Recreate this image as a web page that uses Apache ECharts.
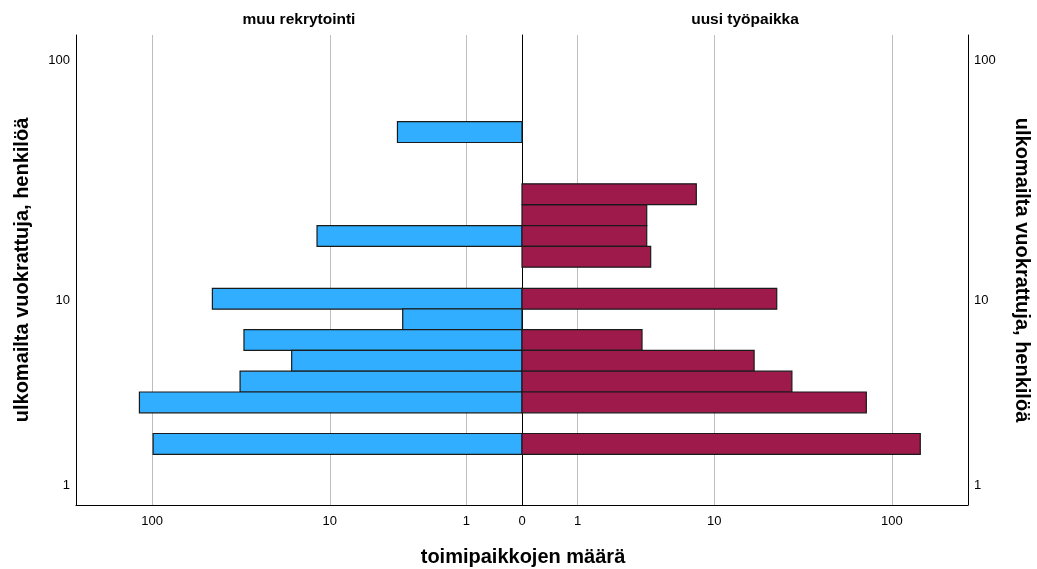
<!DOCTYPE html>
<html>
<head>
<meta charset="utf-8">
<title>toimipaikkojen määrä</title>
<script src="https://cdn.jsdelivr.net/npm/echarts@6/dist/echarts.min.js"></script>
<style>
  html, body { margin: 0; padding: 0; background: #ffffff; }
  #chart { width: 1037px; height: 569px; }
</style>
</head>
<body>
<div id="chart"></div>
<script>
// Histogram bins (persons hired from abroad), bin centres, top to bottom
const binCenters = [51.2, 28.4, 23.2, 19.0, 15.5, 10.2, 8.27, 6.65, 5.31, 4.21, 3.30, 1.93];
// Number of establishments per bin
const muuRekrytointi = [3.73, 0, 0, 11.9, 0, 46.6, 3.43, 31.1, 16.7, 32.7, 117.3, 98.7];
const uusiTyopaikka  = [0, 7.8, 3.74, 3.74, 3.98, 23.0, 0, 3.47, 17.1, 28.0, 72.4, 142.9];
// Tick labels
const countTicks = [1, 10, 100];
const personTicks = [1, 10, 100];
// Axis extents in original units
const personRange = [2 / 3, 127];
const countMax = 260;
// Width of one bin on the safe-log scale
const BIN_LOG = 0.0834;

const panelTitles = ['muu rekrytointi', 'uusi työpaikka'];
const yTitle = 'ulkomailta vuokrattuja, henkilöä';
const xTitle = 'toimipaikkojen määrä';

// safe-log transform: log10(v + 1)
const sl = v => Math.log10(v + 1);
const unsl = t => Math.pow(10, t) - 1;
const fmt = t => String(Math.round(unsl(t)));

const FONT = '"Liberation Sans", Arial, sans-serif';
const BLUE = '#31aeff';
const CRIMSON = '#9e1a4b';

function buildData(counts) {
  const out = [];
  counts.forEach((c, i) => { if (c > 0) out.push([sl(c), sl(binCenters[i])]); });
  return out;
}

function barRenderer(color) {
  return function (params, api) {
    const x = api.value(0), y = api.value(1);
    const a = api.coord([0, y + BIN_LOG / 2]);
    const b = api.coord([x, y - BIN_LOG / 2]);
    return {
      type: 'rect',
      shape: {
        x: Math.min(a[0], b[0]), y: Math.min(a[1], b[1]),
        width: Math.abs(b[0] - a[0]), height: Math.abs(b[1] - a[1])
      },
      style: { fill: color, stroke: '#1a1a1a', lineWidth: 1.2 }
    };
  };
}

const gridTop = 35, gridH = 470, gridW = 446, centerX = 522;

function xAxisCfg(gridIndex, inverse, ticks) {
  const vals = ticks.map(sl);
  return {
    type: 'value', gridIndex, inverse, min: 0, max: sl(countMax),
    axisLine: { show: true, onZero: false, lineStyle: { color: '#000', width: 1 } },
    axisTick: { show: false, customValues: vals },
    axisLabel: { customValues: vals, formatter: v => fmt(v), margin: 10,
                 fontFamily: FONT, fontSize: 13, color: '#000' },
    splitLine: { show: true, customValues: vals, lineStyle: { color: '#bdbdbd', width: 1 } }
  };
}

function yAxisCfg(gridIndex, position, showLabels) {
  const vals = personTicks.map(sl);
  return {
    type: 'value', gridIndex, position,
    min: sl(personRange[0]), max: sl(personRange[1]),
    axisLine: { show: true, onZero: false, lineStyle: { color: '#000', width: 1 } },
    axisTick: { show: false, customValues: vals },
    axisLabel: { show: showLabels, customValues: vals, formatter: v => fmt(v), margin: 6,
                 fontFamily: FONT, fontSize: 13, color: '#000' },
    splitLine: { show: false }
  };
}

const chart = echarts.init(document.getElementById('chart'), null, { renderer: 'canvas' });
chart.setOption({
  animation: false,
  backgroundColor: '#ffffff',
  grid: [
    { left: centerX - gridW, top: gridTop, width: gridW, height: gridH },
    { left: centerX, top: gridTop, width: gridW, height: gridH }
  ],
  xAxis: [
    xAxisCfg(0, true, countTicks),
    xAxisCfg(1, false, [0].concat(countTicks))
  ],
  yAxis: [
    yAxisCfg(0, 'left', true),
    yAxisCfg(1, 'right', true),
    yAxisCfg(1, 'left', false)
  ],
  series: [
    { type: 'custom', name: panelTitles[0], xAxisIndex: 0, yAxisIndex: 0,
      renderItem: barRenderer(BLUE), encode: { x: 0, y: 1 }, data: buildData(muuRekrytointi), z: 3 },
    { type: 'custom', name: panelTitles[1], xAxisIndex: 1, yAxisIndex: 1,
      renderItem: barRenderer(CRIMSON), encode: { x: 0, y: 1 }, data: buildData(uusiTyopaikka), z: 3 }
  ],
  graphic: [
    { type: 'text', x: centerX - gridW / 2, y: 20,
      style: { text: panelTitles[0], align: 'center', verticalAlign: 'middle',
               font: 'bold 15.5px ' + FONT, fill: '#000' } },
    { type: 'text', x: centerX + gridW / 2, y: 20,
      style: { text: panelTitles[1], align: 'center', verticalAlign: 'middle',
               font: 'bold 15.5px ' + FONT, fill: '#000' } },
    { type: 'text', x: 22, y: gridTop + gridH / 2, rotation: Math.PI / 2,
      style: { text: yTitle, align: 'center', verticalAlign: 'middle',
               font: 'bold 20px ' + FONT, fill: '#000' } },
    { type: 'text', x: 1022, y: gridTop + gridH / 2, rotation: -Math.PI / 2,
      style: { text: yTitle, align: 'center', verticalAlign: 'middle',
               font: 'bold 20px ' + FONT, fill: '#000' } },
    { type: 'text', x: centerX + 1, y: 557,
      style: { text: xTitle, align: 'center', verticalAlign: 'middle',
               font: 'bold 20px ' + FONT, fill: '#000' } }
  ]
});
</script>
</body>
</html>
